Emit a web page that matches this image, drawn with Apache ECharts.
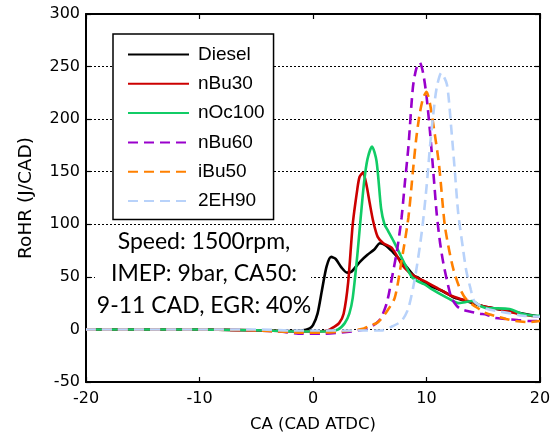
<!DOCTYPE html>
<html>
<head>
<meta charset="utf-8">
<script src="https://cdn.jsdelivr.net/npm/echarts@6/dist/echarts.min.js"></script>
<style>html,body{margin:0;padding:0;background:#fff}#c{width:556px;height:438px}</style>
</head>
<body>
<div id="c"></div>
<script>
var seriesNames = ['Diesel', 'nBu30', 'nOc100', 'nBu60', 'iBu50', '2EH90'];
var xTicks = [-20, -10, 0, 10, 20];
var yTicks = [-50, 0, 50, 100, 150, 200, 250, 300];

var diesel = [[-20,0],[-10,0],[-4,-1],[-2,-1.5],[-1,-1],[-0.3,1],[0,4],[0.4,15],[0.8,38],[1.2,60],[1.6,69],[2.0,67],[2.5,59],[3.0,54],[3.4,55],[3.8,60],[4.2,65],[4.8,71],[5.4,76],[5.9,82],[6.4,80],[7.0,74],[7.5,68],[8.2,60],[8.9,51],[9.3,49],[9.8,45],[10.4,41],[11.3,37],[12,33],[12.5,30],[13.5,27],[15,22],[16.5,19],[18,16],[20,12]];
var nBu30 = [[-20,0],[-10,0],[-4,-1],[-1,-2],[0.5,-2],[1.3,-1],[1.8,2],[2.3,6],[2.7,15],[3.1,45],[3.5,100],[3.9,133],[4.1,145],[4.4,149],[4.7,138],[5.0,120],[5.3,103],[5.7,88],[6.2,82],[6.9,78],[7.4,70],[7.8,62],[8.5,54],[9.2,49],[10,45],[11,39],[12,33],[13,29],[14,26],[15,22],[16.5,19],[18,15],[20,12]];
var nOc100 = [[-20,0],[-10,0],[-4,-1],[-1,-2],[1,-2],[2.2,0],[2.8,6],[3.2,15],[3.5,30],[3.9,70],[4.2,106],[4.5,140],[4.8,162],[5.2,174],[5.6,160],[6.0,115],[6.3,100],[6.6,94],[7.1,84],[7.6,73],[8.1,62],[8.7,50],[9.2,46],[9.8,43],[10.5,38],[11.3,33],[12,29],[12.8,25],[13.4,26],[14,27],[14.8,22],[15.5,20],[16.3,20],[17.3,19.5],[18.4,15],[19.6,13],[20,13]];
var nBu60 = [[-20,0],[-10,0],[-5,-1],[-3,-2],[-1,-4],[1,-4],[2.5,-3],[4,-1],[5,2],[5.6,6],[6.0,11],[6.5,25],[6.9,46],[7.4,75],[7.8,106],[8.1,140],[8.4,173],[8.8,230],[9.1,248],[9.4,254],[9.7,244],[10.0,222],[10.3,189],[10.6,150],[10.9,110],[11.2,82],[11.5,62],[11.9,42],[12.2,30],[12.7,22],[13.1,19],[13.8,17],[14.7,15],[15.3,14],[16,11],[17,10],[18,9],[19,8],[20,8]];
var iBu50 = [[-20,0],[-10,0],[-5,-1],[-3,-2],[-1,-3],[1,-3],[2.5,-2],[3.5,-1],[4.5,1],[5.1,4],[5.6,6],[6.0,10],[6.5,17],[7.2,30],[7.8,65],[8.4,106],[8.8,150],[9.1,182],[9.4,205],[9.7,220],[10.0,226],[10.3,215],[10.6,195],[11.1,157],[11.6,100],[12.0,75],[12.4,56],[12.9,40],[13.4,30],[14,24],[14.7,19],[15.1,16],[16.3,12],[17,10],[17.8,8],[19,7],[20,8]];
var eh90 = [[-20,0],[-10,0],[-5,0],[-2,-1],[0,-1],[2,-1],[4,-1],[6.0,-1],[7.0,3],[7.8,8],[8.4,20],[9.0,50],[9.6,94],[10.0,135],[10.3,173],[10.6,205],[10.9,230],[11.3,244],[11.8,233],[12.2,189],[12.5,150],[12.8,110],[13.2,78],[13.5,56],[13.9,38],[14.2,27],[14.8,22],[15.5,19],[16.5,17],[17.5,15],[18.5,13],[20,12]];

var allData = [diesel, nBu30, nOc100, nBu60, iBu50, eh90];
var colors = ['#000000', '#cc0000', '#11cc66', '#9900cc', '#ff8000', '#b8d2fa'];
var dashed = [false, false, false, true, true, true];

var noteLines = ['Speed: 1500rpm,', 'IMEP: 9bar, CA50:', '9-11 CAD, EGR: 40%'];

var chart = echarts.init(document.getElementById('c'), null, {renderer: 'canvas'});
var tickFont = {fontFamily: 'DejaVu Sans', fontSize: 16, color: '#000'};

var series = allData.map(function (d, i) {
  return {
    name: seriesNames[i],
    type: 'line',
    data: d,
    symbol: 'none',
    smooth: 0.25,
    lineStyle: {color: colors[i], width: 2.6, type: dashed[i] ? [10, 6] : 'solid'},
    itemStyle: {color: colors[i]},
    z: 3 + i
  };
});

var graphics = [{
  type: 'rect', shape: {x: 95, y: 229, width: 216, height: 92},
  style: {fill: '#fff'}, z: 1, silent: true
}];
noteLines.forEach(function (t, i) {
  graphics.push({
    type: 'text', x: 204, y: 242 + i * 31.8, z: 2,
    style: {text: t, fontFamily: 'Lato', fontSize: 23, fill: '#000', align: 'center', verticalAlign: 'middle'}
  });
});

chart.setOption({
  animation: false,
  backgroundColor: '#fff',
  grid: {left: 86, right: 16, top: 14, bottom: 56, containLabel: false},
  legend: {
    orient: 'vertical', left: 113, top: 34,
    data: seriesNames,
    itemWidth: 61, itemHeight: 14, itemGap: 10.3,
    padding: [11, 9, 9, 14],
    borderColor: '#000', borderWidth: 1.5, backgroundColor: '#fff',
    itemStyle: {opacity: 0},
    textStyle: {fontFamily: 'Liberation Sans', fontSize: 19, color: '#000', padding: [0, 0, 0, 4]},
    z: 20
  },
  xAxis: [{
    type: 'value', min: -20, max: 20, interval: 10, position: 'bottom',
    name: 'CA (CAD ATDC)', nameLocation: 'middle', nameGap: 34,
    nameTextStyle: {fontFamily: 'DejaVu Sans', fontSize: 16.5, color: '#000'},
    axisLine: {show: true, onZero: false, lineStyle: {color: '#000', width: 2}},
    axisTick: {show: true, inside: true, length: 5, lineStyle: {color: '#000', width: 1.2}},
    axisLabel: Object.assign({margin: 9, formatter: function (v) { return xTicks.indexOf(v) >= 0 ? String(v) : ''; }}, tickFont),
    splitLine: {show: false}
  }, {
    type: 'value', min: -20, max: 20, interval: 10, position: 'top',
    axisLine: {show: true, onZero: false, lineStyle: {color: '#000', width: 2}},
    axisTick: {show: true, inside: true, length: 5, lineStyle: {color: '#000', width: 1.2}},
    axisLabel: {show: false}, splitLine: {show: false}
  }],
  yAxis: [{
    type: 'value', min: -50, max: 300, interval: 50, position: 'left',
    name: 'RoHR (J/CAD)', nameLocation: 'middle', nameGap: 50,
    nameTextStyle: {fontFamily: 'DejaVu Sans', fontSize: 18.5, color: '#000'},
    axisLine: {show: true, onZero: false, lineStyle: {color: '#000', width: 2}},
    axisTick: {show: true, inside: true, length: 5, lineStyle: {color: '#000', width: 1.2}},
    axisLabel: Object.assign({margin: 6, formatter: function (v) { return yTicks.indexOf(v) >= 0 ? String(v) : ''; }}, tickFont),
    splitLine: {show: true, lineStyle: {color: '#000', width: 1, type: [2, 2]}}
  }, {
    type: 'value', min: -50, max: 300, interval: 50, position: 'right',
    axisLine: {show: true, onZero: false, lineStyle: {color: '#000', width: 2}},
    axisTick: {show: true, inside: true, length: 5, lineStyle: {color: '#000', width: 1.2}},
    axisLabel: {show: false}, splitLine: {show: false}
  }],
  series: series,
  graphic: graphics
});
</script>
</body>
</html>
